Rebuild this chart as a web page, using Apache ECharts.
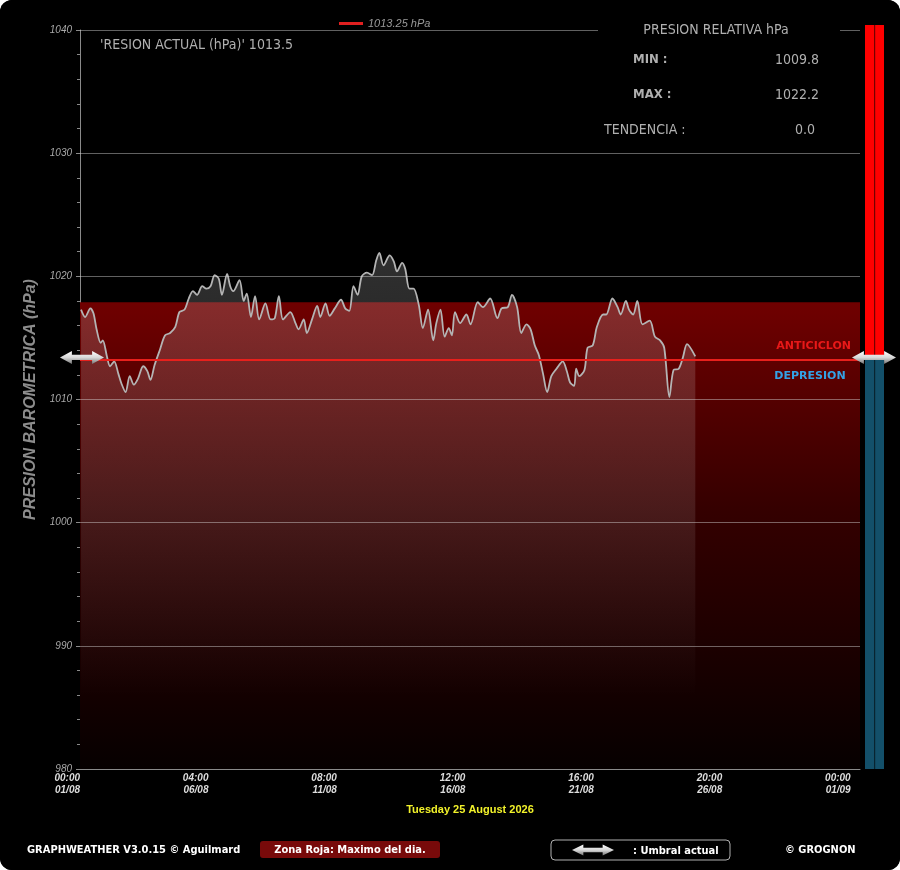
<!DOCTYPE html>
<html><head><meta charset="utf-8">
<script src="https://cdn.jsdelivr.net/npm/echarts@6/dist/echarts.min.js"></script>
<style>html,body{margin:0;padding:0;background:#fff;}#c{width:900px;height:870px;background:#000;border-radius:12px;overflow:hidden;}</style>
</head><body><div id="c"></div><script>
// time in hours since 01/08/2026 00:00
const HOURS = [1,5,10,13,16,20,22,26,29,33,
  37,40,44,48,52,56,61,65,68,72,
  77,82,87,92,96,101,105,109,113,118,
  122,126,130,134,137,142,145,148,154,158,
  161,165,169,173,179,184,188,192,196,203,
  208,211,216,219,224,229,232,237,241,246,
  252,256,260,264,268,272,277,282,286,289,
  293,299,303,306,311,314,318,322,327,331,
  336,341,344,348,352,356,359,362,367,373,
  377,384,389,396,403,407,413,417,422,426,
  431,435,439,443,447,451,455,460,466,470,
  473,477,479,482,487,490,495,499,505,508,
  514,519,522,527,530,534,538,543,550,555,
  560,564,569,573,578,582,586,594];
const PRESSURE = [1017.3,1016.7,1017.4,1017.0,1015.7,1014.6,1014.8,1013.5,1012.7,1013.1,
  1012.1,1011.3,1010.6,1011.9,1011.2,1011.7,1012.7,1012.3,1011.6,1012.8,
  1014.0,1015.2,1015.4,1015.9,1017.1,1017.3,1018.2,1018.8,1018.5,1019.2,
  1019.0,1019.2,1020.1,1019.8,1018.5,1020.2,1019.2,1018.8,1019.7,1018.0,
  1018.6,1016.7,1018.4,1016.5,1017.8,1016.5,1016.6,1018.4,1016.5,1017.1,
  1016.2,1015.7,1016.5,1015.4,1016.5,1017.6,1016.7,1017.8,1016.8,1017.4,
  1018.1,1017.4,1017.2,1019.2,1018.5,1020.0,1020.3,1020.1,1021.3,1021.9,
  1020.9,1021.7,1021.2,1020.4,1021.1,1020.6,1019.0,1019.0,1017.7,1015.8,
  1017.3,1014.8,1016.2,1017.3,1015.1,1015.8,1015.2,1017.1,1016.2,1016.9,
  1016.1,1017.9,1017.5,1018.2,1016.6,1017.4,1017.5,1018.5,1017.5,1015.4,
  1016.1,1015.7,1014.4,1013.6,1012.1,1010.6,1011.9,1012.5,1013.1,1012.3,
  1011.4,1011.1,1012.5,1011.9,1012.4,1014.2,1014.4,1015.9,1016.9,1016.9,
  1018.2,1017.5,1016.9,1018.0,1017.3,1016.9,1018.0,1016.1,1016.4,1015.1,
  1014.8,1014.2,1010.2,1012.4,1012.5,1013.4,1014.5,1013.5];
const THRESHOLD = 1013.25;
const RED_ZONE_TOP = 1017.9;
const Y_TICKS = [980, 990, 1000, 1010, 1020, 1030, 1040];
const X_INTERVAL = 124;
const X_MAX = 753;
const START = Date.UTC(2026, 7, 1);
const CURRENT = '1013.5';
const STAT_MIN = '1009.8';
const STAT_MAX = '1022.2';
const STAT_TREND = '0.0';
const DATE_TEXT = 'Tuesday 25 August 2026';

const series = HOURS.map((h, i) => [h, PRESSURE[i]]);
const pad = n => (n < 10 ? '0' : '') + n;
const fontPanel = '"DejaVu Sans Condensed","Liberation Sans Narrow","DejaVu Sans",sans-serif';

const chart = echarts.init(document.getElementById('c'));
chart.setOption({
  backgroundColor: '#000',
  animation: false,
  grid: { left: 80, top: 30, right: 40, bottom: 101 },
  legend: {
    data: ['1013.25 hPa'], left: 334, top: 13, icon: 'rect', itemWidth: 24, itemHeight: 3,
    textStyle: { color: '#9a9a9a', fontStyle: 'italic', fontSize: 11, fontFamily: 'Liberation Sans, Arial' }
  },
  xAxis: {
    type: 'value', min: 0, max: X_MAX, interval: X_INTERVAL,
    axisLine: { lineStyle: { color: '#8a8a8a' } },
    axisTick: { show: false },
    splitLine: { show: false },
    axisLabel: {
      showMaxLabel: false, align: 'right', margin: 3, color: '#dddddd',
      fontStyle: 'italic', fontWeight: 'bold', fontSize: 10, lineHeight: 12,
      fontFamily: 'Liberation Sans, Arial',
      formatter: v => { const d = new Date(START + v * 3600000);
        return pad(d.getUTCHours()) + ':' + pad(d.getUTCMinutes()) + '\n' + pad(d.getUTCDate()) + '/' + pad(d.getUTCMonth() + 1); }
    }
  },
  yAxis: {
    type: 'value', min: 980, max: 1040, interval: 10,
    name: 'PRESION BAROMETRICA (hPa)', nameLocation: 'middle', nameGap: 40, nameRotate: 90,
    nameTextStyle: { color: '#8c8c8c', fontSize: 16, fontStyle: 'italic', fontWeight: 'bold', fontFamily: 'Liberation Sans, Arial' },
    axisLine: { show: true, lineStyle: { color: '#8a8a8a' } },
    axisTick: { show: true, inside: false, length: 4, lineStyle: { color: '#8a8a8a' } },
    minorTick: { show: true, splitNumber: 5, length: 3, lineStyle: { color: '#8a8a8a' } },
    splitLine: { show: false },
    axisLabel: { color: '#a8a8a8', fontStyle: 'italic', fontSize: 10, margin: 8, fontFamily: 'Liberation Sans, Arial',
      formatter: v => String(v) }
  },
  series: [
    { name: 'zone', type: 'line', data: [], z: 1, silent: true,
      markArea: { silent: true, data: [[{ xAxis: 0, yAxis: 980 }, { xAxis: X_MAX, yAxis: RED_ZONE_TOP }]],
        itemStyle: { color: new echarts.graphic.LinearGradient(0, 0, 0, 1, [
          { offset: 0, color: '#700000' }, { offset: 0.45, color: '#340000' }, { offset: 1, color: '#060000' }]) } } },
    { name: 'grid', type: 'line', data: [], z: 2, silent: true,
      markLine: { silent: true, symbol: 'none', label: { show: false },
        lineStyle: { color: 'rgba(215,215,215,0.45)', width: 1, type: 'solid' },
        data: Y_TICKS.slice(1).map(v => ({ yAxis: v })) } },
    { name: 'pressure', type: 'line', data: series, z: 3, smooth: 0.3, showSymbol: false,
      lineStyle: { color: '#b4b4b4', width: 1.8 },
      areaStyle: { origin: 'start', color: new echarts.graphic.LinearGradient(0, 0, 0, 1, [
        { offset: 0, color: 'rgba(225,225,225,0.30)' }, { offset: 0.5, color: 'rgba(225,225,225,0.17)' },
        { offset: 0.86, color: 'rgba(225,225,225,0)' }]) } },
    { name: '1013.25 hPa', type: 'line', data: [], z: 4, color: '#e02020',
      lineStyle: { color: '#e02020' }, itemStyle: { color: '#e02020' },
      markLine: { silent: true, symbol: 'none', label: { show: false },
        lineStyle: { color: '#e8201c', width: 2, type: 'solid' }, data: [{ yAxis: THRESHOLD }] } }
  ]
});

function arrow(cx, cy, w, h) {
  const hw = w / 2, hh = h / 2, head = w * 0.27, sh = h * 0.2;
  return { type: 'polygon', z: 110, shape: { points: [
    [cx - hw, cy], [cx - hw + head, cy - hh], [cx - hw + head, cy - sh], [cx + hw - head, cy - sh],
    [cx + hw - head, cy - hh], [cx + hw, cy], [cx + hw - head, cy + hh], [cx + hw - head, cy + sh],
    [cx - hw + head, cy + sh], [cx - hw + head, cy + hh]] },
    style: { fill: new echarts.graphic.LinearGradient(0, 0, 0, 1, [
      { offset: 0, color: '#ffffff' }, { offset: 0.5, color: '#d8d8d8' }, { offset: 1, color: '#777777' }]) } };
}
function txt(text, x, y, fill, font, align) {
  return { type: 'text', z: 120, style: { text, x, y, fill, font, textAlign: align || 'left', textVerticalAlign: 'middle' } };
}

const yT = chart.convertToPixel({ yAxisIndex: 0 }, THRESHOLD);
const yTop = chart.convertToPixel({ yAxisIndex: 0 }, 1040) - 5;
const yBot = chart.convertToPixel({ yAxisIndex: 0 }, 980);
const g = [
  { type: 'rect', z: 100, shape: { x: 598, y: 22, width: 242, height: 14 }, style: { fill: '#000' } },
  txt("'RESION ACTUAL (hPa)' " + CURRENT, 100, 45, '#b0b0b0', '14px ' + fontPanel),
  txt('PRESION RELATIVA hPa', 716, 30, '#b0b0b0', '14px ' + fontPanel, 'center'),
  txt('MIN :', 633, 60, '#b0b0b0', 'bold 13px ' + fontPanel),
  txt(STAT_MIN, 819, 60, '#b0b0b0', '14px ' + fontPanel, 'right'),
  txt('MAX :', 633, 95, '#b0b0b0', 'bold 13px ' + fontPanel),
  txt(STAT_MAX, 819, 95, '#b0b0b0', '14px ' + fontPanel, 'right'),
  txt('TENDENCIA :', 604, 130, '#b0b0b0', '14px ' + fontPanel),
  txt(STAT_TREND, 815, 130, '#b0b0b0', '14px ' + fontPanel, 'right'),
  { type: 'rect', z: 100, shape: { x: 865, y: yTop, width: 19, height: yT - yTop }, style: { fill: '#ff0000' } },
  { type: 'rect', z: 100, shape: { x: 865, y: yT, width: 19, height: yBot - yT }, style: { fill: '#13506a' } },
  { type: 'rect', z: 101, shape: { x: 874, y: yTop, width: 1.2, height: yBot - yTop }, style: { fill: 'rgba(0,0,0,0.55)' } },
  arrow(82, yT - 2, 44, 13),
  arrow(874, yT - 2, 44, 13),
  txt('ANTICICLON', 851, yT - 13, '#e81818', 'bold 11px "DejaVu Sans",sans-serif', 'right'),
  txt('DEPRESION', 810, yT + 17, '#33a2e6', 'bold 11px "DejaVu Sans",sans-serif', 'center'),
  txt(DATE_TEXT, 470, 810, '#f2f22a', 'bold 11px "Liberation Sans Narrow","Liberation Sans",Arial,sans-serif', 'center'),
  txt('GRAPHWEATHER V3.0.15 © Aguilmard', 27, 850, '#ffffff', 'bold 11px "DejaVu Sans Condensed","DejaVu Sans",sans-serif'),
  { type: 'rect', z: 100, shape: { x: 260, y: 841, width: 180, height: 17, r: 3 }, style: { fill: '#780a0a' } },
  txt('Zona Roja: Maximo del dia.', 350, 850, '#ffffff', 'bold 11px "DejaVu Sans Condensed","DejaVu Sans",sans-serif', 'center'),
  { type: 'rect', z: 100, shape: { x: 551, y: 840, width: 179, height: 20, r: 4 }, style: { fill: '#000', stroke: '#b0b0b0', lineWidth: 1 } },
  arrow(593, 850, 42, 11),
  txt(': Umbral actual', 633, 851, '#ffffff', 'bold 11px "DejaVu Sans Condensed","DejaVu Sans",sans-serif'),
  txt('© GROGNON', 785, 850, '#ffffff', 'bold 11px "DejaVu Sans Condensed","DejaVu Sans",sans-serif')
];
chart.setOption({ graphic: g });
</script></body></html>
